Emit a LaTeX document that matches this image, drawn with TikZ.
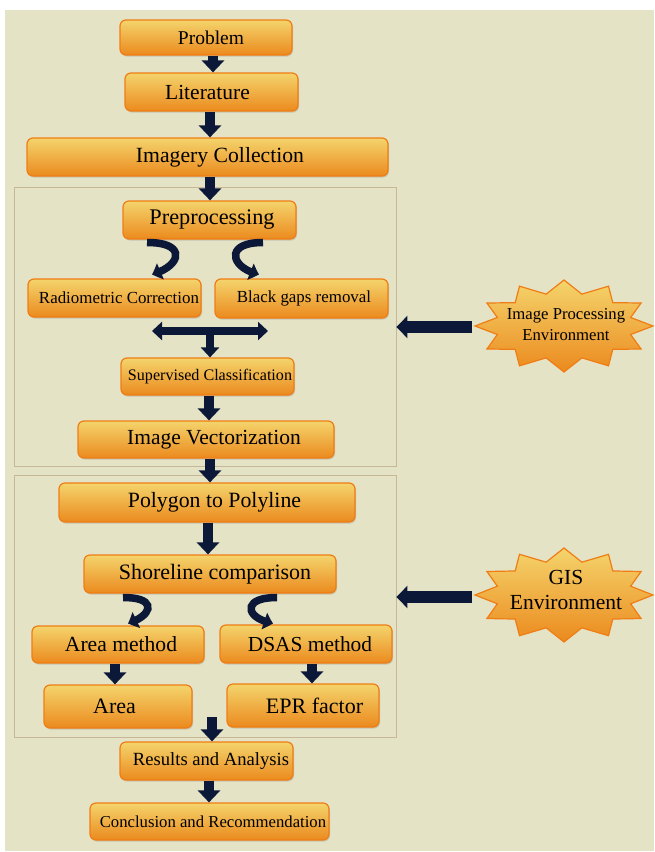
\documentclass[tikz,border=0pt]{standalone}
\usepackage{fontspec}
\setmainfont{Liberation Serif}
\usetikzlibrary{arrows.meta,bending,shadows,calc}
\definecolor{bg}{HTML}{E5E3C6}
\definecolor{navy}{HTML}{0B1838}
\definecolor{boxtop}{HTML}{F4D46C}
\definecolor{boxbot}{HTML}{EB8A1E}
\definecolor{boxline}{HTML}{EF7D14}
\definecolor{framec}{HTML}{C8B796}
\newcommand\fsz[2]{\fontsize{#1}{#2}\selectfont}
\tikzset{
 box/.style={draw=boxline, line width=1.2pt, rounded corners=6pt, top color=boxtop, bottom color=boxbot,
   drop shadow={opacity=0.3, shadow xshift=1pt, shadow yshift=-1.5pt}, inner sep=0pt, text=black},
 framebox/.style={draw=framec, line width=0.9pt, inner sep=0pt},
 downarrow/.style={draw=navy, line width=10pt, -{Triangle[width=22pt,length=12pt]}},
 curvearrow/.style={draw=navy, line width=7.5pt, -{Triangle[width=17pt,length=9pt,bend]}},
 splitarrow/.style={draw=navy, line width=8pt, {Triangle[width=18pt,length=10pt]}-{Triangle[width=18pt,length=10pt]}},
 stemarrow/.style={draw=navy, line width=8pt, -{Triangle[width=18pt,length=10pt]}},
 sidearrow/.style={draw=navy, line width=12pt, -{Triangle[width=22pt,length=11pt]}},
 burstshape/.style={draw=boxline, line width=1.2pt, top color=boxtop, bottom color=boxbot, line join=miter},
 bursttext/.style={align=center, inner sep=0pt, text=black},
}
\begin{document}
\begin{tikzpicture}[x=1pt,y=-1pt]
\useasboundingbox (0,0) rectangle (654,852);
\fill[white] (0,0) rectangle (654,852);
\fill[bg] (5,10) rectangle (654,851);

% frames
\node[framebox, minimum width=382pt, minimum height=279pt] (f1) at (205,326.5) {};
\node[framebox, minimum width=382pt, minimum height=262pt] (f2) at (205,606) {};

% boxes
\node[box, minimum width=172pt, minimum height=35pt, font=\fsz{19.5}{22}] (prob) at (206,37.5) {\hspace*{10pt}Problem};
\node[box, minimum width=173pt, minimum height=38pt, font=\fsz{21.5}{24}] (lit) at (211.5,92) {Literature\hspace*{8pt}};
\node[box, minimum width=361pt, minimum height=38pt, font=\fsz{21.7}{24}] (img) at (207.5,157) {\hspace*{25pt}Imagery Collection};
\node[box, minimum width=173pt, minimum height=38pt, font=\fsz{22.3}{24}] (pre) at (209.5,220) {\hspace*{5pt}Preprocessing};
\node[box, minimum width=173pt, minimum height=38pt, font=\fsz{16.9}{20}] (rad) at (114.5,298) {\hspace*{9pt}Radiometric Correction};
\node[box, minimum width=173pt, minimum height=39pt, font=\fsz{16.9}{20}] (blk) at (301.5,298.5) {\hspace*{5pt}Black gaps removal};
\node[box, minimum width=173pt, minimum height=37pt, font=\fsz{16.1}{20}] (sup) at (207.5,376.5) {\hspace*{5pt}Supervised Classification};
\node[box, minimum width=256pt, minimum height=37pt, font=\fsz{21.5}{24}] (vec) at (206,439.5) {\hspace*{16pt}Image Vectorization};
\node[box, minimum width=296pt, minimum height=39pt, font=\fsz{21.8}{24}] (poly) at (207,502.5) {\hspace*{15pt}Polygon to Polyline};
\node[box, minimum width=252pt, minimum height=38pt, font=\fsz{22}{24}] (shore) at (210,574) {\hspace*{10pt}Shoreline comparison};
\node[box, minimum width=172pt, minimum height=37pt, font=\fsz{21.6}{24}] (aream) at (118,644.5) {\hspace*{6pt}Area method};
\node[box, minimum width=172pt, minimum height=38pt, font=\fsz{21.4}{24}] (dsas) at (306,644) {\hspace*{8pt}DSAS method};
\node[box, minimum width=148pt, minimum height=43pt, font=\fsz{22}{24}] (area) at (118,706.5) {Area\hspace*{7pt}};
\node[box, minimum width=152pt, minimum height=43pt, font=\fsz{22}{24}] (epr) at (303,705.5) {\hspace*{23pt}EPR factor};
\node[box, minimum width=173pt, minimum height=38pt, font=\fsz{18.6}{22}] (res) at (206.5,761) {\hspace*{9pt}Results and Analysis};
\node[box, minimum width=239pt, minimum height=37pt, font=\fsz{16.7}{20}] (conc) at (209.5,821.5) {\hspace*{7pt}Conclusion and Recommendation};

% starbursts
\begin{scope}[shift={(564,326)}]
\draw[burstshape] (0:89pt and 46pt)
  \foreach \k [evaluate=\k as \rr using {isodd(\k)?69:89}, evaluate=\k as \ss using {isodd(\k)?33:46}] in {1,...,23} { -- ({\k*15}:\rr pt and \ss pt) } -- cycle;
\end{scope}
\begin{scope}[shift={(564,595)}]
\draw[burstshape] (0:89pt and 47pt)
  \foreach \k [evaluate=\k as \rr using {isodd(\k)?69:89}, evaluate=\k as \ss using {isodd(\k)?34:47}] in {1,...,23} { -- ({\k*15}:\rr pt and \ss pt) } -- cycle;
\end{scope}
\node[bursttext, font=\fsz{16.7}{21}] (ipe) at (566,325) {Image Processing\\Environment};
\node[bursttext, font=\fsz{21.5}{25}] (gis) at (566,590) {GIS\\Environment};
\coordinate (ipew) at (475,327);
\coordinate (gisw) at (475,597);

% straight arrows
\draw[downarrow] ([xshift=7pt]prob.south) -- ([xshift=7pt]prob.south |- lit.north);
\draw[downarrow] ([xshift=-1.5pt]lit.south) -- ([xshift=-1.5pt]lit.south |- img.north);
\draw[downarrow] ([xshift=2.5pt]img.south) -- ([xshift=2.5pt]img.south |- pre.north);
\draw[downarrow] ([xshift=1.5pt]sup.south) -- ([xshift=1.5pt]sup.south |- vec.north);
\draw[downarrow] ([xshift=4pt]vec.south) -- ([xshift=4pt]vec.south |- poly.north);
\draw[downarrow] ([xshift=1pt]poly.south) -- ([xshift=1pt]poly.south |- shore.north);
\draw[downarrow] ([xshift=-3pt]aream.south) -- ([xshift=-3pt]aream.south |- area.north);
\draw[downarrow] ([xshift=6pt]dsas.south) -- ([xshift=6pt]dsas.south |- epr.north);
\coordinate (join) at (212,717);
\draw[downarrow] (join) -- (join |- res.north);
\draw[downarrow] ([xshift=2.5pt]res.south) -- ([xshift=2.5pt]res.south |- conc.north);

% curved arrows
\draw[curvearrow] ([xshift=-62.5pt,yshift=-3pt]pre.south) .. controls (187,242) and (182,266) .. ([xshift=37.5pt,yshift=4pt]rad.north);
\draw[curvearrow] ([xshift=53.5pt,yshift=-3pt]pre.south) .. controls (224,242) and (230,268) .. ([xshift=-42.5pt,yshift=4pt]blk.north);
\draw[curvearrow] ([xshift=-87pt,yshift=-4pt]shore.south) .. controls (157,597) and (154,615) .. ([xshift=10pt,yshift=2pt]aream.north);
\draw[curvearrow] ([xshift=67pt,yshift=-4pt]shore.south) .. controls (242,597) and (244,618) .. ([xshift=-33pt,yshift=1pt]dsas.north);

% split arrow
\coordinate (split) at (210,331);
\draw[splitarrow] ($(split)+(-58,0)$) -- ($(split)+(58,0)$);
\draw[stemarrow] ([yshift=4pt]split) -- (split |- sup.north);

% side arrows
\draw[sidearrow] ([xshift=-3pt]ipew) -- (ipew -| f1.east);
\draw[sidearrow] ([xshift=-3pt]gisw) -- (gisw -| f2.east);
\end{tikzpicture}
\end{document}
